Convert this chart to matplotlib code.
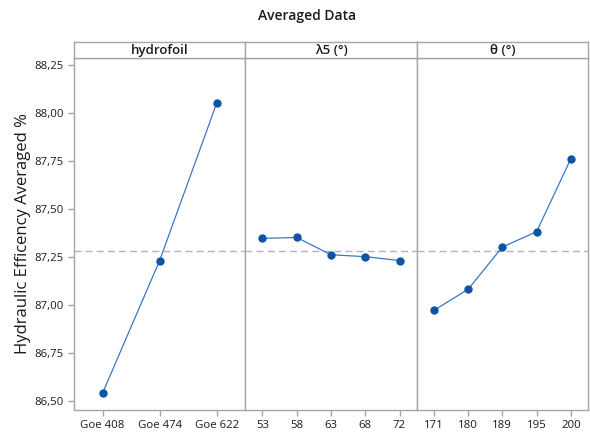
import matplotlib.pyplot as plt
import numpy as np

# factor levels and averaged efficiency values
hydrofoil = ["Goe 408", "Goe 474", "Goe 622"]
hydrofoil_eff = [86.54, 87.23, 88.05]

lambda5 = ["53", "58", "63", "68", "72"]
lambda5_eff = [87.345, 87.35, 87.26, 87.25, 87.23]

theta = ["171", "180", "189", "195", "200"]
theta_eff = [86.97, 87.08, 87.30, 87.38, 87.76]

panel_titles = ["hydrofoil", "λ5 (°)", "θ (°)"]
grand_mean = 87.28
yticks = [86.50, 86.75, 87.00, 87.25, 87.50, 87.75, 88.00, 88.25]

plt.rcParams['font.family'] = ['Open Sans', 'DejaVu Sans']

fig = plt.figure(figsize=(5.9, 4.32), dpi=100)

left, right = 74 / 590, 588 / 590
bottom, top = 1 - 410 / 432, 1 - 58 / 432
strip_top = 1 - 42 / 432
w = (right - left) / 3

grey = "#a6a6a6"
txt = "#1a1a1a"
line_c = "#3a78c0"
dot_c = "#0b55a4"

data = [(hydrofoil, hydrofoil_eff), (lambda5, lambda5_eff), (theta, theta_eff)]

for i, (labels, vals) in enumerate(data):
    ax = fig.add_axes([left + i * w, bottom, w, top - bottom])
    x = np.arange(len(labels))
    ax.axhline(grand_mean, color="#b4b4b4", lw=1, ls=(0, (5, 3)), zorder=1)
    ax.plot(x, vals, color=line_c, lw=0.9, zorder=2)
    ax.plot(x, vals, "o", color=dot_c, ms=5, zorder=3)
    ax.set_xlim(-0.5, len(labels) - 0.5)
    ax.set_ylim(86.452, 88.284)
    ax.set_xticks(x)
    ax.set_xticklabels(labels, fontsize=8.2, color=txt)
    ax.set_yticks(yticks)
    if i == 0:
        ax.set_yticklabels([f"{t:.2f}".replace(".", ",") for t in yticks],
                           fontsize=8.2, color=txt)
        ax.set_ylabel("Hydraulic Efficency Averaged %", fontsize=12,
                      color=txt, labelpad=2)
    else:
        ax.tick_params(axis="y", left=False, labelleft=False)
    for s in ax.spines.values():
        s.set_color(grey)
        s.set_linewidth(1)
    ax.tick_params(colors=grey, labelcolor=txt, length=4, width=1)

    sax = fig.add_axes([left + i * w, top, w, strip_top - top])
    sax.set_xticks([])
    sax.set_yticks([])
    for s in sax.spines.values():
        s.set_color(grey)
        s.set_linewidth(1)
    sax.text(0.5, 0.45, panel_titles[i], ha="center", va="center",
             fontsize=9.5, fontweight="semibold", color=txt,
             transform=sax.transAxes)

fig.text(307 / 590, 1 - 16 / 432, "Averaged Data", ha="center", va="center",
         fontsize=10, fontweight="semibold", color=txt)

fig.savefig("out.png", dpi=100)
